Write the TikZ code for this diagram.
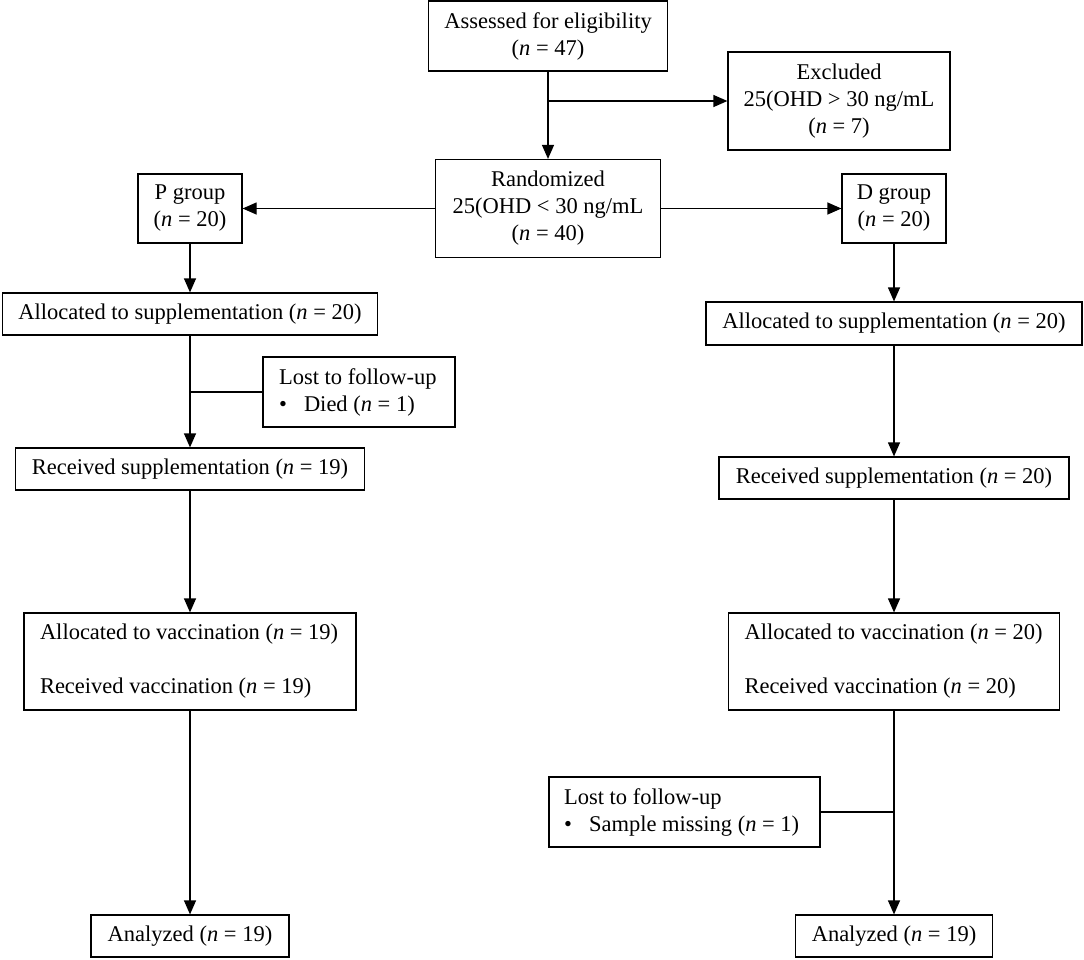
\documentclass[tikz,border=0pt]{standalone}
\usepackage{fontspec}
\setmainfont{Liberation Serif}
\usetikzlibrary{arrows.meta,positioning}

\tikzset{
	flowbox/.style={draw,line width=1.2pt,inner sep=0pt,align=center,font=\fontsize{22.5}{27}\selectfont},
	listbox/.style={flowbox,align=flush left,inner xsep=16pt},
	flowline/.style={line width=1.2pt},
	flowarrow/.style={flowline,-{Triangle[length=14pt,width=12pt]}},
}
\newcommand{\nval}[1]{(\textit{n} = #1)}
\newcommand{\lostitem}[1]{\mbox{\makebox[25pt][l]{\textbullet}#1}}

\begin{document}
\begin{tikzpicture}[x=1pt,y=-1pt]
	\useasboundingbox (0,0) rectangle (1084,959);
	\node[flowbox,minimum width=239pt,minimum height=70pt] (assess) at (548,36) {Assessed for eligibility\\\nval{47}};
	\node[flowbox,minimum width=222pt,minimum height=98pt] (excl) at (839,101) {Excluded\\25(OHD > 30 ng/mL\\\nval{7}};
	\node[flowbox,minimum width=225pt,minimum height=98pt] (rand) at (548,208.5) {Randomized\\25(OHD < 30 ng/mL\\\nval{40}};
	\node[flowbox,minimum width=104pt,minimum height=69pt] (pgrp) at (190,208.5) {P group\\\nval{20}};
	\node[flowbox,minimum width=104pt,minimum height=69pt] (dgrp) at (894,208.5) {D group\\\nval{20}};
	% P group column
	\node[flowbox,minimum width=375pt,minimum height=42pt] (allocP) at (190,314) {Allocated to supplementation \nval{20}};
	\node[listbox,text width=160pt,minimum height=70pt] (lostP) at (359,392) {\mbox{Lost to follow-up}\\\lostitem{Died \nval{1}}};
	\node[flowbox,minimum width=349pt,minimum height=42pt] (recvP) at (190,469) {Received supplementation \nval{19}};
	\node[listbox,text width=300pt,minimum height=97pt] (vacP) at (190,661.5) {\mbox{Allocated to vaccination \nval{19}}\\[27pt]\mbox{Received vaccination \nval{19}}};
	\node[flowbox,minimum width=198pt,minimum height=42pt] (anaP) at (190,936) {Analyzed \nval{19}};
	% D group column
	\node[flowbox,minimum width=376pt,minimum height=43pt] (allocD) at (894,323.5) {Allocated to supplementation \nval{20}};
	\node[flowbox,minimum width=350pt,minimum height=42pt] (recvD) at (894,478) {Received supplementation \nval{20}};
	\node[listbox,text width=299pt,minimum height=97pt] (vacD) at (894,661.5) {\mbox{Allocated to vaccination \nval{20}}\\[27pt]\mbox{Received vaccination \nval{20}}};
	\node[listbox,inner xsep=15pt,text width=241pt,minimum height=70pt] (lostD) at (684.5,812) {\mbox{Lost to follow-up}\\\lostitem{Sample missing \nval{1}}};
	\node[flowbox,minimum width=197pt,minimum height=42pt] (anaD) at (894,936) {Analyzed \nval{19}};

	\draw[flowarrow] (assess) -- (rand);
	\coordinate (exclfork) at (assess.south |- excl.west);
	\draw[flowarrow] (exclfork) -- (excl);
	\draw[flowarrow] (rand) -- (pgrp);
	\draw[flowarrow] (rand) -- (dgrp);
	\draw[flowarrow] (pgrp) -- (allocP);
	\draw[flowarrow] (allocP) -- (recvP);
	\coordinate (lostPfork) at (allocP.south |- lostP.west);
	\draw[flowline] (lostPfork) -- (lostP);
	\draw[flowarrow] (recvP) -- (vacP);
	\draw[flowarrow] (vacP) -- (anaP);
	\draw[flowarrow] (dgrp) -- (allocD);
	\draw[flowarrow] (allocD) -- (recvD);
	\draw[flowarrow] (recvD) -- (vacD);
	\draw[flowarrow] (vacD) -- (anaD);
	\coordinate (lostDfork) at (vacD.south |- lostD.east);
	\draw[flowline] (lostDfork) -- (lostD);
\end{tikzpicture}
\end{document}
